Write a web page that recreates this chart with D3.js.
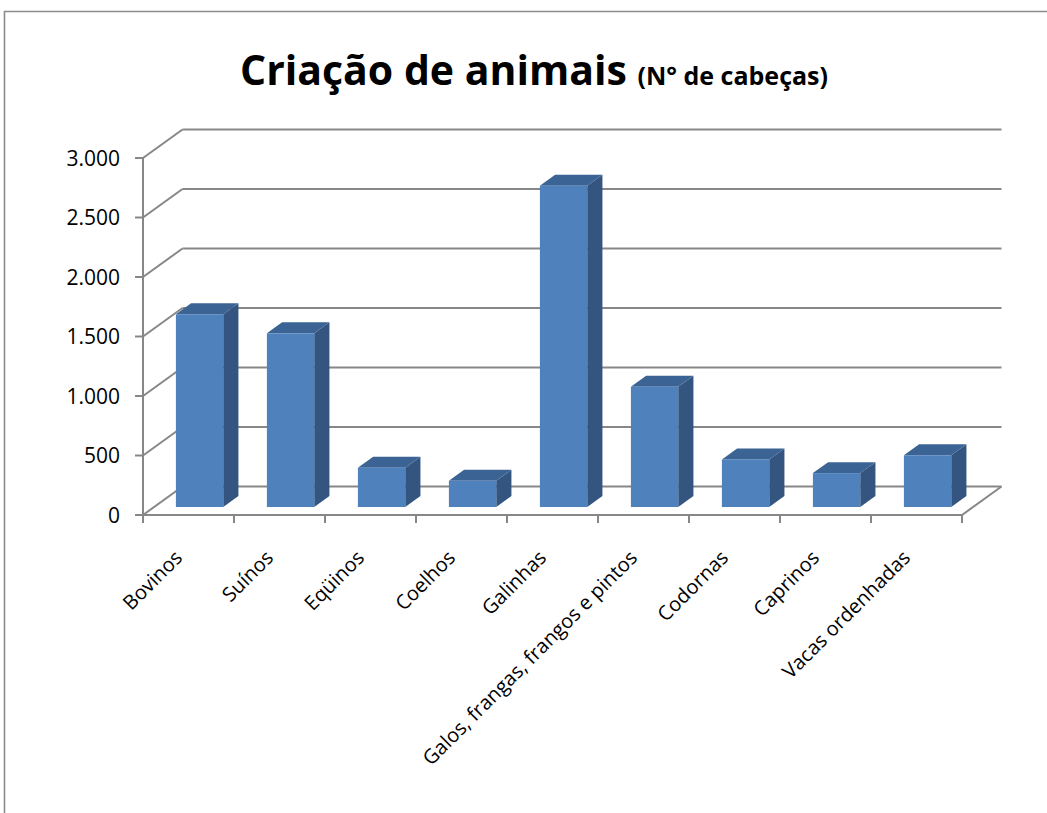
<!DOCTYPE html>
<html>
<head>
<meta charset="utf-8">
<script src="https://cdn.jsdelivr.net/npm/d3@7"></script>
<style>
  html, body { margin: 0; padding: 0; background: #fff; }
  svg { display: block; }
  text { font-family: "Open Sans", "Noto Sans", sans-serif; fill: #000; }
</style>
</head>
<body>
<svg id="chart" width="1047" height="813"></svg>
<script>
// Número de cabeças por tipo de criação
const categories = ["Bovinos", "Suínos", "Eqüinos", "Coelhos", "Galinhas",
  "Galos, frangas, frangos e pintos", "Codornas", "Caprinos", "Vacas ordenhadas"];
const values = [1620, 1460, 330, 220, 2700, 1010, 400, 285, 435];
const yTicks = [0, 500, 1000, 1500, 2000, 2500, 3000];
const yTickLabels = ["0", "500", "1.000", "1.500", "2.000", "2.500", "3.000"];

const svg = d3.select("#chart");
const W = 1047, H = 813;

// Plot geometry (front plane + oblique depth)
const left = 143, right = 962, floorY = 515, topY = 158;
const depthX = 39.5, depthY = -28.5;
const grid = "#878787";

const x = d3.scaleBand().domain(categories).range([left, right])
  .paddingInner(0.48).paddingOuter(0.24);
const y = d3.scaleLinear().domain([0, 3000]).range([floorY, topY]);

// Bars occupy a slab in the middle of the depth
const t0 = 0.28, t1 = 0.665;

// Outer frame
svg.append("path")
  .attr("d", `M4.5,${H} L4.5,11.5 L${W},11.5`)
  .attr("fill", "none").attr("stroke", "#8c8c8c").attr("stroke-width", 1.6);

// Title
const title = svg.append("text")
  .attr("x", 534).attr("y", 85).attr("text-anchor", "middle")
  .style("font-weight", "bold");
title.append("tspan").style("font-size", "41px").text("Criação de animais ");
title.append("tspan").style("font-size", "25px").text("(N° de cabeças)");

const g = svg.append("g");

// Back wall gridlines and left wall diagonals
yTicks.forEach(v => {
  const yf = y(v);
  g.append("line")
    .attr("x1", left + depthX).attr("y1", yf + depthY)
    .attr("x2", right + depthX).attr("y2", yf + depthY)
    .attr("stroke", grid).attr("stroke-width", 2);
  g.append("line")
    .attr("x1", left).attr("y1", yf)
    .attr("x2", left + depthX).attr("y2", yf + depthY)
    .attr("stroke", grid).attr("stroke-width", 2);
});

// Floor: right edge and front edge
g.append("path")
  .attr("d", `M${right + depthX},${floorY + depthY} L${right},${floorY} L${left},${floorY}`)
  .attr("fill", "none").attr("stroke", grid).attr("stroke-width", 2);

// Category ticks along the front edge
const bounds = categories.map(c => x(c) - x.step() * 0.24).concat([right]);
bounds.forEach(bx => {
  g.append("line")
    .attr("x1", bx).attr("y1", floorY).attr("x2", bx).attr("y2", floorY + 8)
    .attr("stroke", grid).attr("stroke-width", 2);
});

// 3D columns
const bars = g.append("g");
categories.forEach((c, i) => {
  const v = values[i];
  const bw = x.bandwidth();
  const fx = x(c) + depthX * t0;
  const fyBase = floorY + depthY * t0;
  const fyTop = fyBase - (y(0) - y(v));
  const ddx = depthX * (t1 - t0), ddy = depthY * (t1 - t0);
  const bar = bars.append("g");
  // side face
  bar.append("path")
    .attr("d", `M${fx + bw},${fyBase} L${fx + bw + ddx},${fyBase + ddy} L${fx + bw + ddx},${fyTop + ddy} L${fx + bw},${fyTop} Z`)
    .attr("fill", "#34557f");
  // top face
  bar.append("path")
    .attr("d", `M${fx},${fyTop} L${fx + ddx},${fyTop + ddy} L${fx + bw + ddx},${fyTop + ddy} L${fx + bw},${fyTop} Z`)
    .attr("fill", "#3b6393");
  // front face
  bar.append("rect")
    .attr("x", fx).attr("y", fyTop).attr("width", bw).attr("height", fyBase - fyTop)
    .attr("fill", "#4f81bd");
});

// Vertical axis
g.append("line")
  .attr("x1", left).attr("y1", topY).attr("x2", left).attr("y2", floorY + 8)
  .attr("stroke", grid).attr("stroke-width", 2);
yTicks.forEach((v, i) => {
  g.append("line")
    .attr("x1", left - 8).attr("y1", y(v)).attr("x2", left).attr("y2", y(v))
    .attr("stroke", grid).attr("stroke-width", 2);
  svg.append("text")
    .attr("x", 120).attr("y", y(v)).attr("dy", "0.36em")
    .attr("text-anchor", "end").style("font-size", "21px")
    .text(yTickLabels[i]);
});

// Category labels, rotated
categories.forEach(c => {
  const cx = x(c) + x.bandwidth() / 2;
  svg.append("text")
    .attr("transform", `translate(${cx - 5},${floorY + 44}) rotate(-45)`)
    .attr("text-anchor", "end").style("font-size", "20px")
    .text(c);
});
</script>
</body>
</html>
